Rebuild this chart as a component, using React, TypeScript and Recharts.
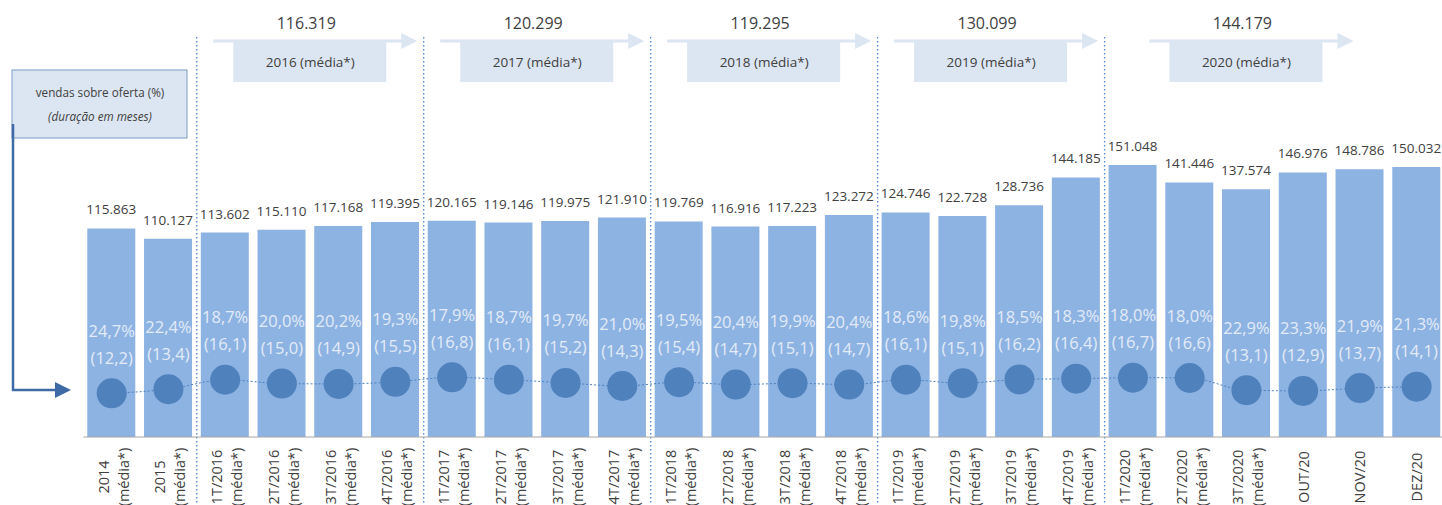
import { ComposedChart, Bar, Line, XAxis, YAxis, LabelList, ReferenceLine } from "recharts";

// rótulos do eixo x (linha 1 / linha 2)
const categories = [
  "2014", "2015", "1T/2016", "2T/2016", "3T/2016", "4T/2016",
  "1T/2017", "2T/2017", "3T/2017", "4T/2017", "1T/2018", "2T/2018",
  "3T/2018", "4T/2018", "1T/2019", "2T/2019", "3T/2019", "4T/2019",
  "1T/2020", "2T/2020", "3T/2020", "OUT/20", "NOV/20", "DEZ/20",
];
const suffixes = [
  "(média*)", "(média*)", "(média*)", "(média*)", "(média*)", "(média*)",
  "(média*)", "(média*)", "(média*)", "(média*)", "(média*)", "(média*)",
  "(média*)", "(média*)", "(média*)", "(média*)", "(média*)", "(média*)",
  "(média*)", "(média*)", "(média*)", "", "", "",
];

// oferta (unidades)
const oferta = [
  115863, 110127, 113602, 115110, 117168, 119395,
  120165, 119146, 119975, 121910, 119769, 116916,
  117223, 123272, 124746, 122728, 128736, 144185,
  151048, 141446, 137574, 146976, 148786, 150032,
];
// vendas sobre oferta (%)
const vso = [
  24.7, 22.4, 18.7, 20.0, 20.2, 19.3,
  17.9, 18.7, 19.7, 21.0, 19.5, 20.4,
  19.9, 20.4, 18.6, 19.8, 18.5, 18.3,
  18.0, 18.0, 22.9, 23.3, 21.9, 21.3,
];
// duração em meses
const duracao = [
  12.2, 13.4, 16.1, 15.0, 14.9, 15.5,
  16.8, 16.1, 15.2, 14.3, 15.4, 14.7,
  15.1, 14.7, 16.1, 15.1, 16.2, 16.4,
  16.7, 16.6, 13.1, 12.9, 13.7, 14.1,
];

// médias anuais no topo
const groupLabels = ["2016 (média*)", "2017 (média*)", "2018 (média*)", "2019 (média*)", "2020 (média*)"];
const groupAverages = [116319, 120299, 119295, 130099, 144179];
const groupCenters = [3.5, 7.5, 11.5, 15.5, 20];
const dividers = [1.5, 5.5, 9.5, 13.5, 17.5];

const data = categories.map((c, i) => ({
  idx: i,
  name: c,
  value: oferta[i],
  vso: vso[i],
  dur: duracao[i],
}));

const tickIdx = categories.map((_, i) => i);
const edgeTicks = [-0.5, ...categories.map((_, i) => i + 0.5)];

const TEXT = "#404040";
const BAR = "#8db3e2";
const DOT = "#4f81bd";
const PALE = "#dce6f2";

const fmtThousands = (v: number) => String(v).replace(/\B(?=(\d{3})+(?!\d))/g, ".");
const fmtDec = (v: number) => v.toFixed(1).replace(".", ",");

const CatTick = (p: any) => {
  const i = p.payload.value as number;
  const cy = p.y + 40;
  const l1 = categories[i];
  const l2 = suffixes[i];
  if (l1 === undefined) return null;
  if (!l2) {
    return (
      <text x={p.x} y={cy} transform={`rotate(-90, ${p.x}, ${cy})`} textAnchor="middle" dominantBaseline="central" fontSize={14.5} fill={TEXT}>
        {l1}
      </text>
    );
  }
  const x1 = p.x - 8.5;
  const x2 = p.x + 11.5;
  return (
    <g>
      <text x={x1} y={cy} transform={`rotate(-90, ${x1}, ${cy})`} textAnchor="middle" dominantBaseline="central" fontSize={14.5} fill={TEXT}>
        {l1}
      </text>
      <text x={x2} y={cy} transform={`rotate(-90, ${x2}, ${cy})`} textAnchor="middle" dominantBaseline="central" fontSize={14.5} fill={TEXT}>
        {l2}
      </text>
    </g>
  );
};

const EdgeTick = (p: any) => (
  <line x1={p.x} x2={p.x} y1={p.y - 4} y2={p.y + 6} stroke="#a6a6a6" strokeWidth={1} />
);

const DotWithLabel = (p: any) => {
  const { cx, cy, index } = p;
  if (cx == null || cy == null) return <g key={`d${index}`} />;
  return (
    <g key={`d${index}`}>
      <circle cx={cx} cy={cy} r={15} fill={DOT} />
      <text x={cx} y={cy - 63} textAnchor="middle" dominantBaseline="central" fontSize={16.5} fill="#e3ebf7">
        {fmtDec(vso[index])}%
      </text>
      <text x={cx} y={cy - 36} textAnchor="middle" dominantBaseline="central" fontSize={16.5} fill="#e3ebf7">
        ({fmtDec(duracao[index])})
      </text>
    </g>
  );
};

const DividerShape = (p: any) => (
  <line x1={p.x1} x2={p.x1} y1={37} y2={505} stroke="#4f8ad6" strokeWidth={1.3} strokeDasharray="1.5 2.5" />
);

const groupShape = (gi: number) => (p: any) => {
  const cx = p.x1;
  return (
    <g>
      <line x1={cx - 97} x2={cx + 92} y1={41} y2={41} stroke={PALE} strokeWidth={3} />
      <polygon points={`${cx + 91},33 ${cx + 107},41 ${cx + 91},49`} fill={PALE} />
      <rect x={cx - 77} y={41} width={153} height={41} fill={PALE} />
      <text x={cx - 4} y={23} textAnchor="middle" dominantBaseline="central" fontSize={16} fill={TEXT}>
        {fmtThousands(groupAverages[gi])}
      </text>
      <text x={cx} y={62} textAnchor="middle" dominantBaseline="central" fontSize={13.5} fill={TEXT}>
        {groupLabels[gi]}
      </text>
    </g>
  );
};

export default function App() {
  return (
    <div
      style={{
        position: "fixed",
        left: 0,
        top: 0,
        width: 1442,
        height: 505,
        overflow: "hidden",
        background: "#fff",
        fontFamily: "'Open Sans', sans-serif",
      }}
    >
      <svg width={200} height={505} style={{ position: "absolute", left: 0, top: 0 }}>
        <rect x={12} y={70} width={175} height={68} fill={PALE} stroke="#7d9bc8" strokeWidth={1} />
        <text x={100} y={92} textAnchor="middle" dominantBaseline="central" fontSize={11.7} fill={TEXT}>
          vendas sobre oferta (%)
        </text>
        <text x={100} y={116} textAnchor="middle" dominantBaseline="central" fontSize={11.7} fontStyle="italic" fill={TEXT}>
          (duração em meses)
        </text>
        <path d="M13 124 V390 H58" fill="none" stroke="#3e6aa6" strokeWidth={2.5} />
        <polygon points="55,382 71,390 55,398" fill="#3e6aa6" />
      </svg>
      <div style={{ position: "absolute", left: 0, top: 0 }}>
        <ComposedChart width={1446} height={505} data={data} margin={{ top: 149, right: 1, left: 83.3, bottom: 0 }}>
          <XAxis
            xAxisId="edge"
            dataKey="idx"
            type="number"
            domain={[-0.5, 23.5]}
            ticks={edgeTicks}
            interval={0}
            tick={<EdgeTick />}
            tickLine={false}
            tickSize={0}
            tickMargin={0}
            axisLine={false}
            height={0}
          />
          <XAxis
            xAxisId="cat"
            dataKey="idx"
            type="number"
            domain={[-0.5, 23.5]}
            ticks={tickIdx}
            interval={0}
            tick={<CatTick />}
            tickLine={false}
            tickSize={0}
            tickMargin={0}
            axisLine={{ stroke: "#a6a6a6" }}
            height={68}
          />
          <YAxis yAxisId="v" domain={[0, 160000]} hide />
          <YAxis yAxisId="d" domain={[-0.36, 82.44]} hide />
          {dividers.map((d) => (
            <ReferenceLine key={`div${d}`} xAxisId="cat" yAxisId="v" x={d} shape={DividerShape} />
          ))}
          {groupCenters.map((c, gi) => (
            <ReferenceLine key={`grp${gi}`} xAxisId="cat" yAxisId="v" x={c} shape={groupShape(gi)} />
          ))}
          <Bar xAxisId="cat" yAxisId="v" dataKey="value" fill={BAR} barSize={48} isAnimationActive={false}>
            <LabelList dataKey="value" position="top" offset={14} fontSize={13.5} fill={TEXT} formatter={(v: any) => fmtThousands(Number(v))} />
          </Bar>
          <Line
            xAxisId="cat"
            yAxisId="d"
            dataKey="dur"
            type="monotone"
            stroke={DOT}
            strokeWidth={1}
            strokeDasharray="2 2"
            dot={DotWithLabel}
            activeDot={false}
            isAnimationActive={false}
          />
        </ComposedChart>
      </div>
    </div>
  );
}
